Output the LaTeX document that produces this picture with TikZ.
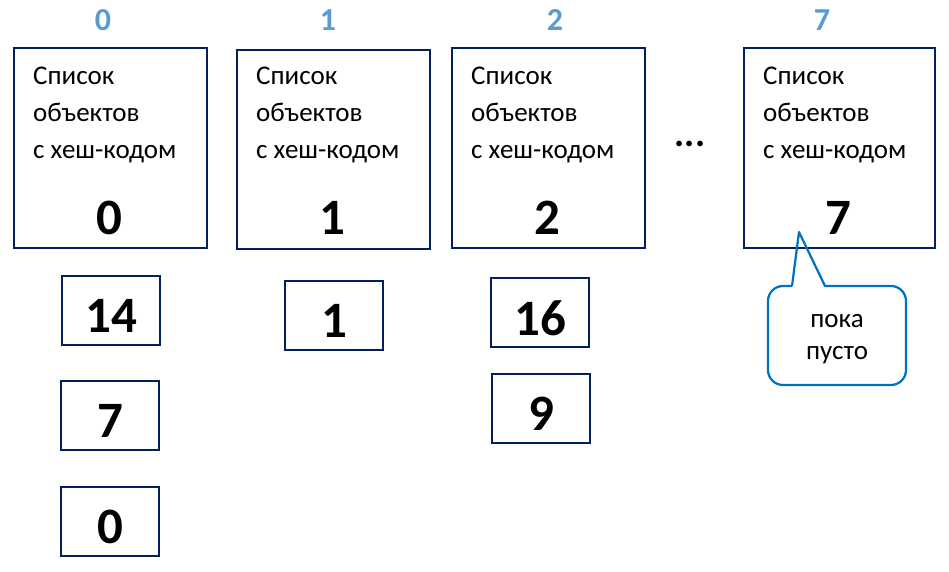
\documentclass[tikz,border=0pt]{standalone}
\usepackage{fontspec}
\setmainfont{Carlito}
\definecolor{navy}{HTML}{002060}
\definecolor{callblue}{HTML}{0070C0}
\definecolor{lblblue}{HTML}{5B9BD5}
\begin{document}
\begin{tikzpicture}[x=1pt,y=-1pt,
  bucket/.style={draw=navy,line width=2.2pt},
  item/.style={draw=navy,line width=2.2pt},
  btext/.style={anchor=base west,align=left,inner sep=0pt,font=\fontsize{27}{37}\selectfont},
  bignum/.style={font=\fontsize{51}{51}\selectfont\bfseries,inner sep=0pt},
  idx/.style={font=\fontsize{32}{32}\selectfont\bfseries,text=lblblue,inner sep=0pt}]
\useasboundingbox (0,0) rectangle (949,572);
% buckets
\draw[bucket] (14,48) rectangle (207,248);
\draw[bucket] (237,50) rectangle (430,249);
\draw[bucket] (452,48) rectangle (645,248);
\draw[bucket] (744,48) rectangle (935,248);
\node[idx] (i0) at (103,20) {0};
\node[idx] (i1) at (328,20) {1};
\node[idx] (i2) at (555,20) {2};
\node[idx] (i7) at (822,20) {7};
\foreach \x/\n in {33/t0,256/t1,471/t2,763/t7}{
  \node[btext] (\n) at (\x,159) {Список\\объектов\\с хеш-кодом};
}
\node[bignum] (n0) at (109,218) {0};
\node[bignum] (n1) at (332,218) {1};
\node[bignum] (n2) at (547,218) {2};
\node[bignum] (n7) at (838,218) {7};
% items
\draw[item] (62,276) rectangle (160,345);
\node[bignum] (a14) at (111,316) {14};
\draw[item] (61,381) rectangle (159,450);
\node[bignum] (a7) at (110,421) {7};
\draw[item] (61,487) rectangle (159,556);
\node[bignum] (a0) at (110,527) {0};
\draw[item] (285,281) rectangle (383,350);
\node[bignum] (a1) at (334,321) {1};
\draw[item] (491,278) rectangle (589,347);
\node[bignum] (a16) at (540,318) {16};
\draw[item] (492,374) rectangle (590,443);
\node[bignum] (a9) at (541,414) {9};
% dots
\node[font=\fontsize{38}{38}\selectfont\bfseries,inner sep=0pt] (dots) at (690,144) {...};
% callout
\draw[callblue,line width=2.2pt,line join=round]
  (792,286) -- (799,232) -- (825,286)
  [rounded corners=15] -- (906,286) -- (906,385) -- (768,385) -- (768,286) -- (792,286);
\node[align=center,inner sep=0pt,font=\fontsize{27}{32}\selectfont] (empty) at (837,339) {пока\\пусто};
\end{tikzpicture}
\end{document}
